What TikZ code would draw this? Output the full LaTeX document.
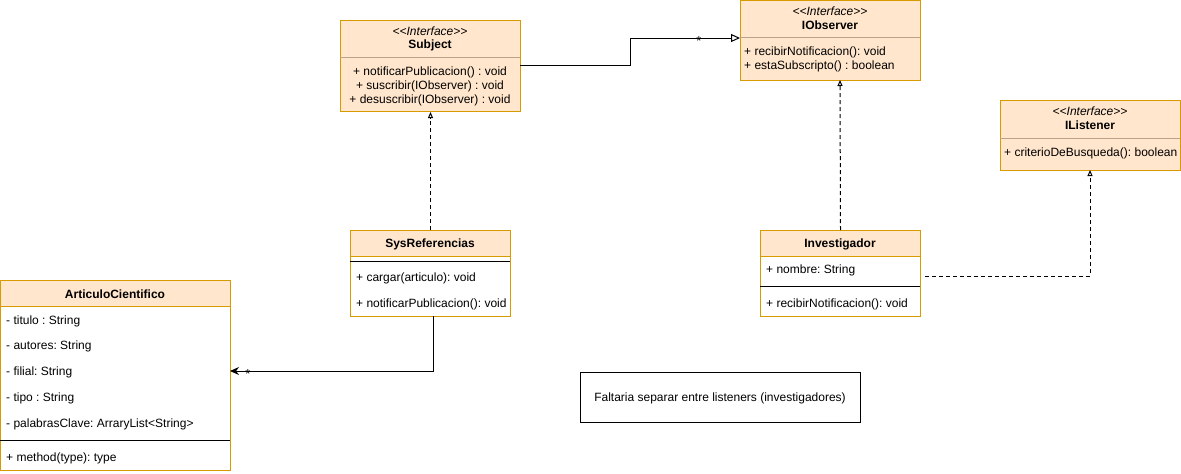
\documentclass[tikz,border=0pt]{standalone}
\usepackage{fontspec}
\setmainfont[Ligatures=NoCommon]{Liberation Sans}
\frenchspacing
\usetikzlibrary{arrows.meta,calc}
\definecolor{boxfill}{HTML}{FFE6CC}
\definecolor{boxline}{HTML}{D79B00}
\definecolor{divline}{HTML}{B9A38A}
\newcommand{\stereotext}{{<}{<}Interface{>}{>}}
\tikzset{
  ifacebox/.style={draw=boxline, fill=boxfill, line width=1pt, anchor=north west, inner sep=0pt},
  classbox/.style={draw=boxline, fill=white, line width=1pt, anchor=north west, inner sep=0pt},
  headbox/.style={draw=boxline, fill=boxfill, line width=1pt, anchor=north west, inner sep=0pt},
  txt/.style={font=\fontsize{12}{14}\selectfont, inner sep=0pt},
  ltxt/.style={txt, anchor=west},
  stereo/.style={txt, font=\fontsize{12}{14}\selectfont\itshape},
  title/.style={txt, font=\fontsize{12}{14}\selectfont\bfseries},
  realize/.style={line width=1pt, dashed, dash pattern=on 4pt off 3pt, -{Triangle[open,length=6pt,width=5pt]}},
  gener/.style={line width=1pt, -{Triangle[open,length=9pt,width=8pt]}},
  assoc/.style={line width=1pt, -{Stealth[length=9pt,width=8pt]}},
  mult/.style={font=\fontsize{13}{13}\selectfont, inner sep=0pt},
}
\begin{document}
\begin{tikzpicture}[x=1pt,y=-1pt]
\useasboundingbox (0,0) rectangle (1181,474);

% Subject
\node[ifacebox, minimum width=180pt, minimum height=91pt] (subject) at (340,20) {};
\draw[divline, line width=1pt] (340,57) -- (520,57);
\node[stereo] (subjectst) at (430,31) {\stereotext};
\node[title] (subjectt) at (430,45) {Subject};
\node[txt] (subjectm1) at (430,72) {+ notificarPublicacion() : void};
\node[txt] (subjectm2) at (430,86) {+ suscribir(IObserver) : void};
\node[txt] (subjectm3) at (430,100) {+ desuscribir(IObserver) : void};

% IObserver
\node[ifacebox, minimum width=180pt, minimum height=80pt] (iobs) at (740,0) {};
\draw[divline, line width=1pt] (740,37) -- (920,37);
\node[stereo] (iobsst) at (830,11) {\stereotext};
\node[title] (iobst) at (830,25) {IObserver};
\node[ltxt] (iobsm1) at (744,52) {+ recibirNotificacion(): void};
\node[ltxt] (iobsm2) at (744,66) {+ estaSubscripto() : boolean};

% IListener
\node[ifacebox, minimum width=180pt, minimum height=70pt] (ilis) at (1000,100) {};
\draw[divline, line width=1pt] (1000,138) -- (1180,138);
\node[stereo] (ilisst) at (1090,111) {\stereotext};
\node[title] (ilist) at (1090,125) {IListener};
\node[ltxt] (ilism1) at (1004,153) {+ criterioDeBusqueda(): boolean};

% SysReferencias
\node[classbox, minimum width=160pt, minimum height=86pt] (sysref) at (350,230) {};
\node[headbox, minimum width=160pt, minimum height=26pt] (sysrefh) at (350,230) {};
\node[title] (sysreft) at (430,244) {SysReferencias};
\draw[line width=1pt] (350,261) -- (510,261);
\node[ltxt] (sysrefm1) at (356,278) {+ cargar(articulo): void};
\node[ltxt] (sysrefm2) at (356,304) {+ notificarPublicacion(): void};

% Investigador
\node[classbox, minimum width=160pt, minimum height=86pt] (invest) at (760,230) {};
\node[headbox, minimum width=160pt, minimum height=26pt] (investh) at (760,230) {};
\node[title] (investt) at (840,244) {Investigador};
\node[ltxt] (investa1) at (766,270) {+ nombre: String};
\draw[line width=1pt] (760,286) -- (920,286);
\node[ltxt] (investm1) at (766,304) {+ recibirNotificacion(): void};

% ArticuloCientifico
\node[classbox, minimum width=230pt, minimum height=190pt] (art) at (0,280) {};
\node[headbox, minimum width=230pt, minimum height=26pt] (arth) at (0,280) {};
\node[title] (artt) at (115,294) {ArticuloCientifico};
\node[ltxt] (arta1) at (6,321) {- titulo : String};
\node[ltxt] (arta2) at (6,346) {- autores: String};
\node[ltxt] (arta3) at (6,372) {- filial: String};
\node[ltxt] (arta4) at (6,398) {- tipo : String};
\node[ltxt] (arta5) at (6,424) {- palabrasClave: ArraryList{<}String{>}};
\draw[line width=1pt] (0,440) -- (230,440);
\node[ltxt] (artm1) at (6,458) {+ method(type): type};

% Note
\node[draw, line width=1pt, fill=white, minimum width=280pt, minimum height=50pt, anchor=north west, inner sep=0pt] (note) at (580,372) {};
\node[txt] (notet) at (720,398) {Faltaria separar entre listeners (investigadores)};

% Connectors
\coordinate (subjout) at (520,65);
\coordinate (iobsin) at (740,38);
\draw[gener] (subjout) -- (630,65) |- (iobsin);
\node[mult, anchor=center] (m1) at (699,41.5) {*};

\draw[realize] (sysref.north) -- (subject.south);
\coordinate (iobsbot) at (840,80);
\draw[realize] (invest.north) -- (iobsbot);
\coordinate (investout) at (925,276);
\coordinate (ilisbot) at (1090,170);
\draw[realize] (investout) -| (ilisbot);

\coordinate (sysrefbot) at (433,316);
\coordinate (artin) at (230,371);
\draw[assoc] (sysrefbot) |- (artin);
\node[mult, anchor=center] (m2) at (248,374) {*};
\end{tikzpicture}
\end{document}
